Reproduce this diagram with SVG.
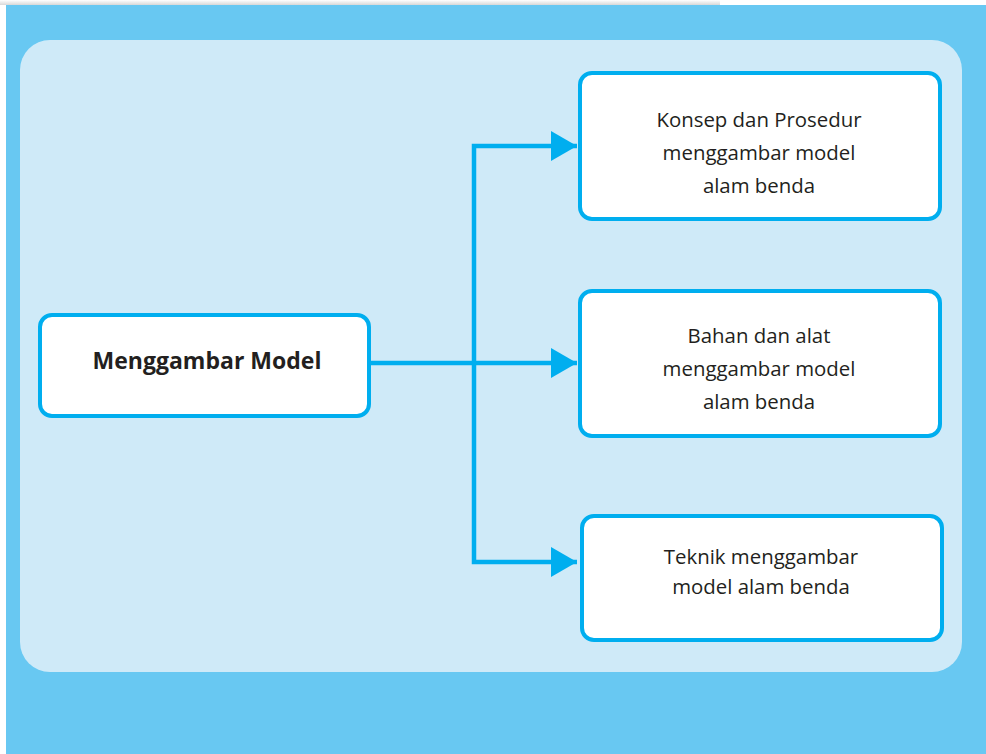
<svg xmlns="http://www.w3.org/2000/svg" width="986" height="754" viewBox="0 0 986 754">
<defs>
<style>
.box{fill:#FFFFFF;stroke:#00AEEF;stroke-width:4}
.t{font-family:"Open Sans","Liberation Sans",sans-serif;font-size:20.4px;fill:#231F20;text-anchor:middle}
.tb{font-family:"Open Sans","Liberation Sans",sans-serif;font-size:23px;font-weight:bold;fill:#231F20;text-anchor:middle}
.ln{fill:none;stroke:#00AEEF;stroke-width:4.5}
</style>
<linearGradient id="sh" x1="0" y1="0" x2="0" y2="1">
<stop offset="0" stop-color="#FFFFFF"/>
<stop offset="1" stop-color="#D8D8D8"/>
</linearGradient>
<marker id="ah" viewBox="0 0 26 30" refX="26" refY="15" markerWidth="26" markerHeight="30" markerUnits="userSpaceOnUse" orient="auto">
<path d="M0,0 L26,15 L0,30 Z" fill="#00AEEF"/>
</marker>
</defs>
<rect x="0" y="0" width="986" height="754" fill="#FFFFFF"/>
<rect x="0" y="0" width="720" height="5" fill="url(#sh)"/>
<rect x="6" y="5" width="980" height="749" fill="#68C8F2"/>
<rect x="20" y="40" width="942" height="632" rx="30" ry="30" fill="#CFEAF8"/>
<g id="connectors">
<path class="ln" d="M370,363 L577,363" marker-end="url(#ah)"/>
<path class="ln" d="M577,146 L474,146 L474,562 L577,562" marker-end="url(#ah)"/>
<path d="M551,131 L577,146 L551,161 Z" fill="#00AEEF"/>
</g>
<g id="node-main">
<rect class="box" x="40" y="315" width="329" height="101" rx="12" ry="12"/>
<text class="tb" x="207" y="369">Menggambar Model</text>
</g>
<g id="node-konsep">
<rect class="box" x="580" y="73" width="360" height="146" rx="12" ry="12"/>
<text class="t" x="759" y="127">Konsep dan Prosedur</text>
<text class="t" x="759" y="160">menggambar model</text>
<text class="t" x="759" y="193">alam benda</text>
</g>
<g id="node-bahan">
<rect class="box" x="580" y="291" width="360" height="145" rx="12" ry="12"/>
<text class="t" x="759" y="343">Bahan dan alat</text>
<text class="t" x="759" y="376">menggambar model</text>
<text class="t" x="759" y="409">alam benda</text>
</g>
<g id="node-teknik">
<rect class="box" x="582" y="516" width="360" height="124" rx="12" ry="12"/>
<text class="t" x="761" y="564">Teknik menggambar</text>
<text class="t" x="761" y="594">model alam benda</text>
</g>
</svg>
